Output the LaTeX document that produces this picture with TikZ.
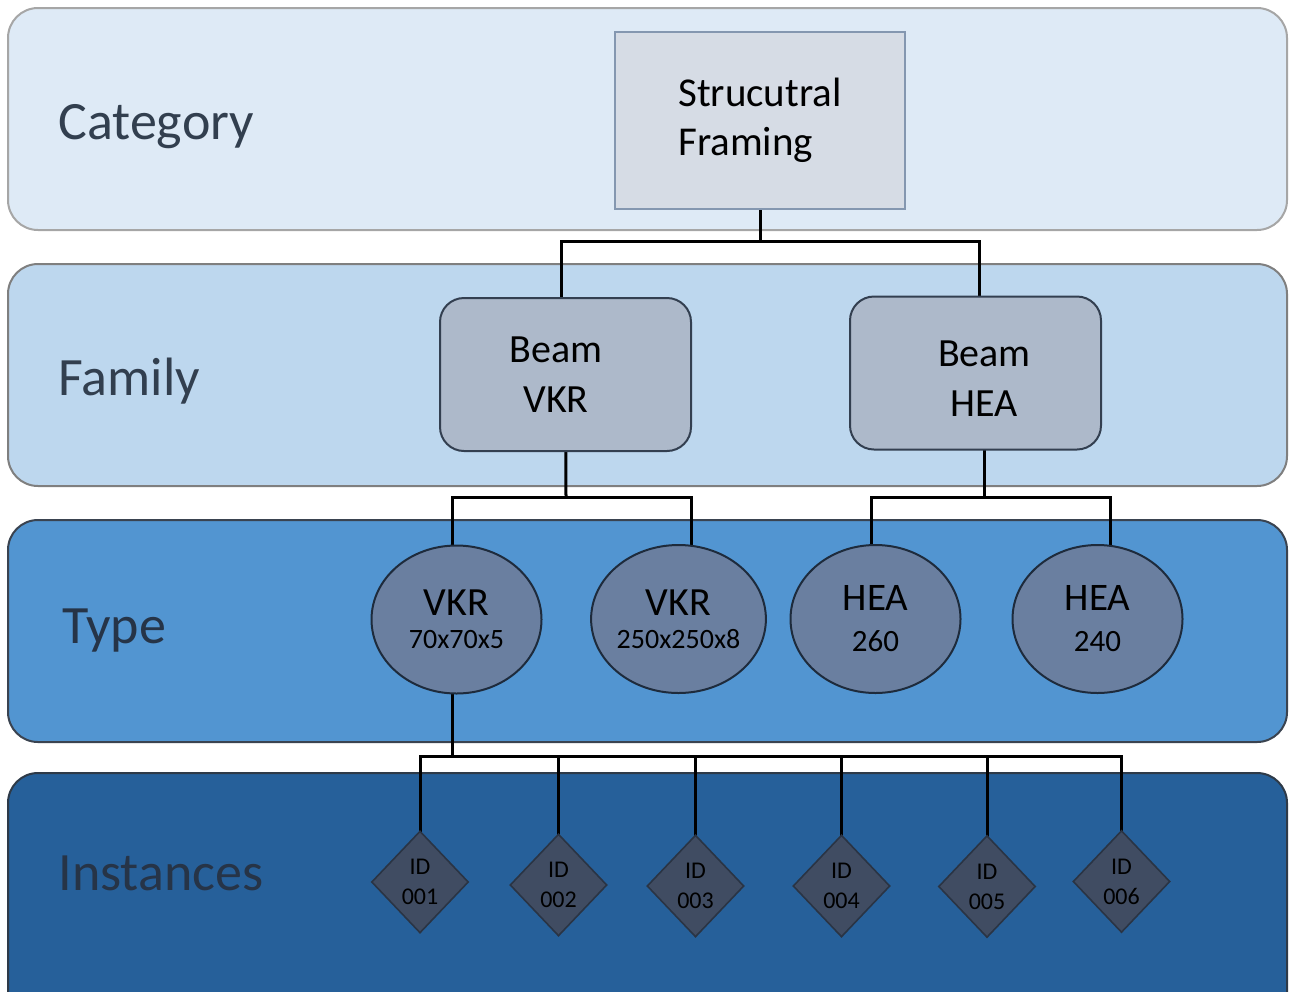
\documentclass[tikz,border=0pt]{standalone}
\usepackage{fontspec}
\setmainfont{Carlito}
\usetikzlibrary{shapes.geometric}
\pgfdeclarelayer{bands}
\pgfdeclarelayer{lines}
\pgfsetlayers{bands,lines,main}
\definecolor{bandAf}{HTML}{DEEAF6}
\definecolor{bandAd}{HTML}{A6A6A6}
\definecolor{bandBf}{HTML}{BDD7EE}
\definecolor{bandBd}{HTML}{7F7F7F}
\definecolor{bandCf}{HTML}{5295D1}
\definecolor{bandCd}{HTML}{3A4350}
\definecolor{bandDf}{HTML}{26609A}
\definecolor{bandDd}{HTML}{2E3A48}
\definecolor{labelc}{HTML}{323F4F}
\definecolor{labeld}{HTML}{263447}
\definecolor{sff}{HTML}{D6DCE5}
\definecolor{sfd}{HTML}{8497B0}
\definecolor{famf}{HTML}{ADB9CA}
\definecolor{famd}{HTML}{333F50}
\definecolor{typf}{HTML}{6A7FA0}
\definecolor{typd}{HTML}{1E2B3C}
\definecolor{insf}{HTML}{404C62}
\definecolor{insd}{HTML}{2A3444}
\begin{document}
\begin{tikzpicture}[x=0.5pt,y=-0.5pt,
  band/.style={rounded corners=15pt, line width=1pt},
  bandlabel/.style={anchor=base west, inner sep=0pt, text=labelc, font=\fontsize{27}{32}\selectfont},
  conn/.style={line width=1.5pt, draw=black},
  sfbox/.style={draw=sfd, fill=sff, line width=1pt, minimum width=145pt, minimum height=88.5pt, inner sep=0pt, align=left, font=\fontsize{20.5}{24.5}\selectfont},
  fambox/.style={draw=famd, fill=famf, line width=1pt, rounded corners=12pt, minimum width=125.5pt, minimum height=76.5pt, inner sep=0pt, align=center, font=\fontsize{20}{25}\selectfont},
  typell/.style={ellipse, draw=typd, fill=typf, line width=1pt, minimum width=85pt, minimum height=74pt, inner sep=0pt, align=center},
  insdia/.style={diamond, draw=insd, fill=insf, line width=0.8pt, minimum width=48.5pt, minimum height=51pt, inner sep=0pt, align=center, font=\fontsize{12}{15}\selectfont}
]
\useasboundingbox (0,0) rectangle (1289,991);

% bands
\begin{pgfonlayer}{bands}
\begin{scope}
\clip (0,0) rectangle (1289,991);
\draw[band, draw=bandAd, fill=bandAf] (8,8) rectangle (1287,230);
\draw[band, draw=bandBd, fill=bandBf] (8,264) rectangle (1287,486);
\draw[band, draw=bandCd, fill=bandCf] (8,520) rectangle (1287,742);
\draw[band, draw=bandDd, fill=bandDf] (8,773) rectangle (1287,1040);
\end{scope}
\end{pgfonlayer}

% band labels
\node[bandlabel] (lcat) at (58,139) {Category};
\node[bandlabel] (lfam) at (58,395) {Family};
\node[bandlabel, text=labeld] (ltyp) at (62,643) {Type};
\node[bandlabel, text=labeld] (lins) at (58,890) {Instances};

% nodes
\node[sfbox] (sf) at (760,120.5) {Strucutral\\Framing};
\node[fambox] (bvkr) at (565.5,374.5) {Beam\hspace*{9.5pt}\\VKR\hspace*{9.5pt}};
\node[fambox] (bhea) at (975.5,373) {\hspace*{9pt}\rule{0pt}{18pt}Beam\\\hspace*{9pt}HEA};

\node[typell, font=\fontsize{20}{16.5}\selectfont] (vkr1) at (456.5,619.5) {VKR\\{\fontsize{14}{16.5}\selectfont 70x70x5}};
\node[typell, font=\fontsize{20}{16.5}\selectfont] (vkr2) at (678.5,619) {VKR\\{\fontsize{14}{16.5}\selectfont 250x250x8}};
\node[typell, font=\fontsize{19.5}{20.5}\selectfont] (hea1) at (875.5,619) {HEA\\{\fontsize{15.5}{20.5}\selectfont 260}};
\node[typell, font=\fontsize{19.5}{20.5}\selectfont] (hea2) at (1097.5,619) {HEA\\{\fontsize{15.5}{20.5}\selectfont 240}};

\node[insdia] (id1) at (420,882) {ID\\001};
\node[insdia] (id2) at (558.5,885) {ID\\002};
\node[insdia] (id3) at (695.5,886) {ID\\003};
\node[insdia] (id4) at (841.5,886) {ID\\004};
\node[insdia] (id5) at (987,886.5) {ID\\005};
\node[insdia] (id6) at (1121.5,881.5) {ID\\006};

% connectors
\begin{pgfonlayer}{lines}
\coordinate (j1) at (760,241);
\coordinate (j2) at (566,497);
\coordinate (j3) at (984,497);
\coordinate (j4) at (452,756);
\draw[conn] (sf.center) -- (j1);
\draw[conn] ([xshift=-2.25pt]bvkr.center) |- (j1) -| ([xshift=1.75pt]bhea.center);
\draw[conn] (bvkr.center) -- (j2);
\draw[conn] ([xshift=-2.25pt]vkr1.center) |- (j2) -| ([xshift=6.25pt]vkr2.center);
\draw[conn] ([xshift=4.25pt]bhea.center) -- (j3);
\draw[conn] ([xshift=-2.25pt]hea1.center) |- (j3) -| ([xshift=6.25pt]hea2.center);
\draw[conn] ([xshift=-2.25pt]vkr1.center) -- (j4);
\draw[conn] (id1.center) |- (j4) -| (id6.center);
\draw[conn] (id2.center) -- (id2.center |- j4);
\draw[conn] (id3.center) -- (id3.center |- j4);
\draw[conn] (id4.center) -- (id4.center |- j4);
\draw[conn] (id5.center) -- (id5.center |- j4);
\end{pgfonlayer}
\end{tikzpicture}
\end{document}
